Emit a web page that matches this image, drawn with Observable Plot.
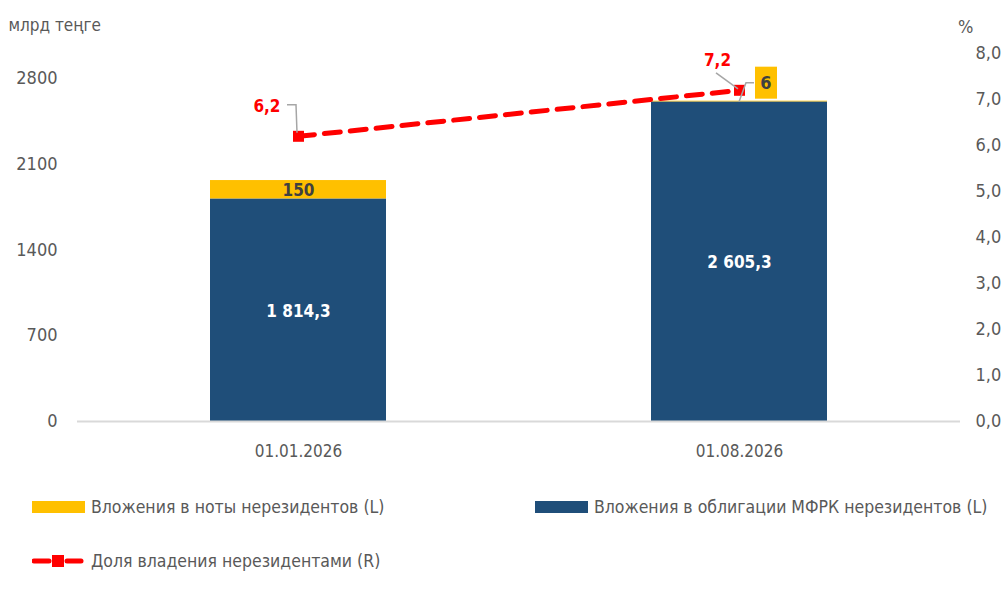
<!DOCTYPE html>
<html>
<head>
<meta charset="utf-8">
<script src="https://cdn.jsdelivr.net/npm/d3@7"></script>
<script src="https://cdn.jsdelivr.net/npm/@observablehq/plot@0.6"></script>
<style>
  body { margin: 0; background: #fff; }
  #wrap { width: 1004px; font-family: "Liberation Sans Narrow", "DejaVu Sans Condensed", "Roboto Condensed", sans-serif; font-stretch: condensed; color: #595959; }
  #legend { position: relative; height: 121px; font-size: 17.5px; }
  .item { position: absolute; display: flex; align-items: center; height: 20px; white-space: nowrap; }
  .sw { width: 53px; height: 12px; margin-right: 6px; }
</style>
</head>
<body>
<div id="wrap">
  <div id="chart"></div>
  <div id="legend"></div>
</div>
<script>
// ---- data ----
const dates = ["01.01.2026", "01.08.2026"];
const bonds = [1814.3, 2605.3];        // Вложения в облигации МФРК нерезидентов (L)
const notes = [150, 6];                // Вложения в ноты нерезидентов (L)
const share = [6.2, 7.2];              // Доля владения нерезидентами (R), %
const leftTicks = [0, 700, 1400, 2100, 2800];
const rightTicks = [0, 1, 2, 3, 4, 5, 6, 7, 8];
const seriesNames = {
  notes: "Вложения в ноты нерезидентов (L)",
  bonds: "Вложения в облигации МФРК нерезидентов (L)",
  share: "Доля владения нерезидентами (R)"
};
const colors = { bonds: "#1f4e79", notes: "#ffc000", share: "#ff0000" };
const unitLeft = "млрд теңге";
const unitRight = "%";

// ---- derived ----
const leftMax = 3000, rightMax = 8;
const k = leftMax / rightMax;
const locale = d3.formatLocale({ decimal: ",", thousands: "\u00a0", grouping: [3], currency: ["", ""] });
const fmtNum = v => Number.isInteger(v) ? locale.format(",d")(v) : locale.format(",.1f")(v);
const fmtPct = locale.format(".1f");

const rows = dates.flatMap((d, i) => [
  { date: d, series: "bonds", value: bonds[i], idx: i },
  { date: d, series: "notes", value: notes[i], idx: i }
]);
const lineData = dates.map((d, i) => ({ date: d, share: share[i], idx: i }));
const font = "'Liberation Sans Narrow', 'DejaVu Sans Condensed', 'Roboto Condensed', sans-serif";

function annotations(index, scales) {
  const x = scales.x, y = scales.y;
  let bw = 0;
  if (typeof x.bandwidth === "function") bw = x.bandwidth();
  else if (typeof x.bandwidth === "number") bw = x.bandwidth;
  else if (scales.scales && scales.scales.x) bw = scales.scales.x.bandwidth || 0;
  const cx = d => x(d) + bw / 2;
  const g = d3.create("svg:g");
  const grey = "#a6a6a6";
  // leader for first share label
  const x0 = cx(dates[0]), y0 = y(share[0] * k);
  g.append("path").attr("d", `M${x0 - 11},${y0 - 31}H${x0 - 2}L${x0 - 1},${y0 - 3}`)
    .attr("fill", "none").attr("stroke", grey).attr("stroke-width", 1.5);
  // leader for second share label
  const x1 = cx(dates[1]), y1 = y(share[1] * k);
  g.append("path").attr("d", `M${x1 - 23},${y1 - 17}L${x1 - 1},${y1 - 1}`)
    .attr("fill", "none").attr("stroke", grey).attr("stroke-width", 1.5);
  // small notes value box for second bar
  const yTop = y(bonds[1] + notes[1]);
  const bx = x1 + 27, by = yTop - 18;
  g.append("path").attr("d", `M${bx - 12},${by}H${bx - 20}L${x1},${yTop + 1}`)
    .attr("fill", "none").attr("stroke", grey).attr("stroke-width", 1.5);
  g.append("rect").attr("x", bx - 11).attr("y", by - 16).attr("width", 22).attr("height", 32)
    .attr("fill", colors.notes);
  g.append("text").attr("x", bx).attr("y", by).attr("dy", "0.36em").attr("text-anchor", "middle")
    .attr("font-family", font).attr("font-size", 18).attr("font-weight", "bold").attr("fill", "#404040")
    .text(fmtNum(notes[1]));
  return g.node();
}

const chart = Plot.plot({
  width: 1004,
  height: 470,
  marginTop: 53,
  marginBottom: 49,
  marginLeft: 77,
  marginRight: 44,
  style: { fontFamily: font, fontSize: "18px", color: "#595959", background: "#fff" },
  x: { type: "band", domain: dates, paddingInner: 0.6, paddingOuter: 0.3, axis: null },
  y: { domain: [0, leftMax], axis: null },
  marks: [
    Plot.barY(rows, { x: "date", y: "value", fill: d => colors[d.series] }),
    Plot.ruleY([0], { stroke: "#d9d9d9", strokeWidth: 2 }),
    Plot.text(rows, Plot.stackY({
      x: "date", y: "value",
      text: d => (d.series === "notes" && d.value < 50) ? null : fmtNum(d.value),
      fill: d => d.series === "bonds" ? "#ffffff" : "#404040",
      fontWeight: "bold", fontSize: 17, dy: 1
    })),
    Plot.axisY(leftTicks, { anchor: "left", tickSize: 0, tickPadding: 20, label: null, tickFormat: d => String(d), fontSize: 18 }),
    Plot.axisY(rightTicks.map(v => v * k), { anchor: "right", tickSize: 0, tickPadding: 15, label: null, tickFormat: d => fmtPct(d / k), fontSize: 18 }),
    Plot.axisX({ tickSize: 0, tickPadding: 23, label: null, fontSize: 17 }),
    Plot.text([unitLeft], { frameAnchor: "top-left", text: d => d, dx: -69, dy: -35, textAnchor: "start", fontSize: 17 }),
    Plot.text([unitRight], { frameAnchor: "top-right", text: d => d, dx: 13, dy: -33, textAnchor: "end", fontSize: 18 }),
    Plot.line(lineData, { x: "date", y: d => d.share * k, stroke: colors.share, strokeWidth: 5, strokeDasharray: "16,10", strokeLinecap: "round" }),
    Plot.dot(lineData, { x: "date", y: d => d.share * k, symbol: "square", r: 6.2, fill: colors.share, stroke: "none" }),
    Plot.text(lineData.filter(d => d.idx === 0), { x: "date", y: d => d.share * k, text: d => fmtPct(d.share), dx: -18, dy: -30, textAnchor: "end", fill: colors.share, fontWeight: "bold", fontSize: 17 }),
    Plot.text(lineData.filter(d => d.idx === 1), { x: "date", y: d => d.share * k, text: d => fmtPct(d.share), dx: -22, dy: -30, textAnchor: "middle", fill: colors.share, fontWeight: "bold", fontSize: 17 }),
    annotations
  ]
});
document.getElementById("chart").appendChild(chart);

// ---- legend ----
const legend = document.getElementById("legend");
function addItem(left, top, swatchHTML, label) {
  const el = document.createElement("div");
  el.className = "item";
  el.style.left = left + "px";
  el.style.top = top + "px";
  el.innerHTML = swatchHTML + `<span>${label}</span>`;
  legend.appendChild(el);
}
addItem(32, 27, `<div class="sw" style="background:${colors.notes}"></div>`, seriesNames.notes);
addItem(535, 27, `<div class="sw" style="background:${colors.bonds}"></div>`, seriesNames.bonds);
addItem(32, 81, `<svg width="53" height="14" style="margin-right:6px"><line x1="2" y1="7" x2="17" y2="7" stroke="${colors.share}" stroke-width="5" stroke-linecap="round"/><line x1="35" y1="7" x2="49" y2="7" stroke="${colors.share}" stroke-width="5" stroke-linecap="round"/><rect x="20" y="1" width="12" height="12" fill="${colors.share}"/></svg>`, seriesNames.share);
</script>
</body>
</html>
